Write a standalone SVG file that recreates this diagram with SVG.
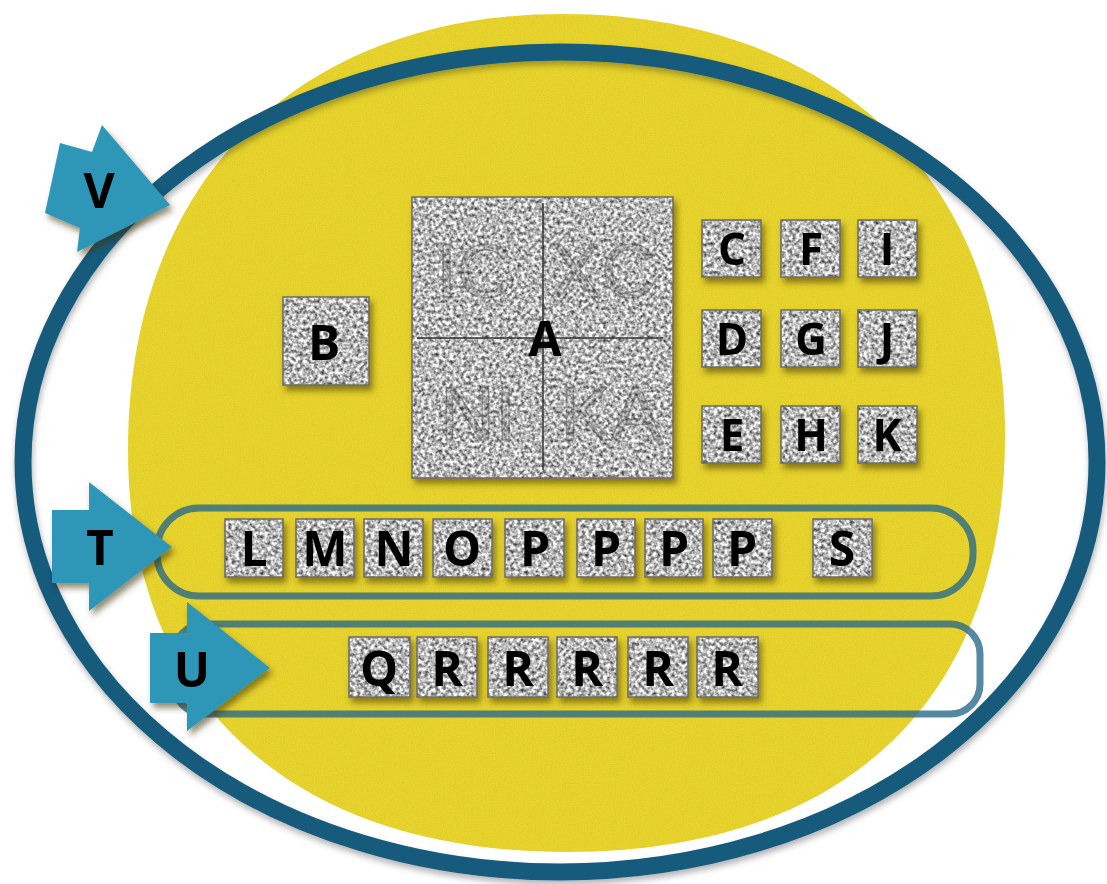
<svg xmlns="http://www.w3.org/2000/svg" width="1107" height="884" viewBox="0 0 1107 884">
<defs>
<filter id="tex" x="0%" y="0%" width="100%" height="100%" color-interpolation-filters="sRGB">
<feTurbulence type="fractalNoise" baseFrequency="0.28" numOctaves="2" seed="7" result="n"/>
<feColorMatrix in="n" type="matrix" values="1.4 0 0 0 0.02  1.4 0 0 0 0.02  1.4 0 0 0 0.02  0 0 0 0 1" result="g"/>
<feComposite in="g" in2="SourceAlpha" operator="in"/>
</filter>
<filter id="drop" x="-20%" y="-20%" width="150%" height="150%">
<feDropShadow dx="3" dy="5" stdDeviation="3" flood-color="#3a3000" flood-opacity="0.55"/>
</filter>
<filter id="ringsh" x="-5%" y="-5%" width="110%" height="112%">
<feDropShadow dx="1" dy="4" stdDeviation="3" flood-color="#000" flood-opacity="0.3"/>
</filter>
<filter id="grain" x="0%" y="0%" width="100%" height="100%" color-interpolation-filters="sRGB">
<feTurbulence type="fractalNoise" baseFrequency="0.9" numOctaves="1" seed="2" result="n"/>
<feColorMatrix in="n" type="matrix" values="0 0 0 0 0.7  0 0 0 0 0.62  0 0 0 0 0.05  0 0 0 0.35 -0.1" result="d"/>
<feComposite in="d" in2="SourceAlpha" operator="in" result="dd"/>
<feMerge><feMergeNode in="SourceGraphic"/><feMergeNode in="dd"/></feMerge>
</filter>
</defs>
<style>
.tile{fill:#aaa;}
.edge{fill:none;stroke:#6b6b6b;stroke-width:1.5;}
.lt{font-family:"Open Sans","Liberation Sans",sans-serif;font-weight:700;fill:#000;text-anchor:middle;}
.s44{font-size:44px;}
.s48{font-size:48px;}
.arrow{fill:#2e97b8;}
.cont{fill:none;stroke:#2a6a8a;stroke-opacity:0.8;stroke-width:7;}
.faint{font-family:"Liberation Sans",sans-serif;font-size:76px;fill:#444;fill-opacity:0.15;stroke:#333;stroke-opacity:0.35;stroke-width:1.5;text-anchor:middle;}
</style>
<rect width="1107" height="884" fill="#fff"/>

<g id="yellow-field">
<path d="M562,14 C825,14 1005,170 1005,435 C1005,705 840,852 567,852 C295,852 128,705 128,450 C128,175 305,14 562,14 Z" fill="#ead62f" filter="url(#grain)"/>
</g>

<g id="ring-V">
<ellipse cx="560" cy="462" rx="537" ry="410" fill="none" stroke="#165a7b" stroke-width="17" filter="url(#ringsh)"/>
</g>

<g id="container-T">
<rect x="157" y="508" width="816" height="88" rx="42" class="cont"/>
</g>
<g id="container-U">
<rect x="174" y="624" width="806" height="90" rx="30" class="cont"/>
</g>

<g id="node-A" filter="url(#drop)">
<rect x="412" y="197" width="261" height="281" class="tile" filter="url(#tex)"/>
<rect x="412" y="197" width="261" height="281" class="edge"/>
<text x="474" y="297" class="faint">IC</text>
<text x="603" y="297" class="faint">XC</text>
<text x="478" y="440" class="faint">NI</text>
<text x="611" y="440" class="faint">KA</text>
<line x1="543" y1="203" x2="543" y2="470" stroke="#333" stroke-width="1.5"/>
<line x1="417" y1="338" x2="663" y2="338" stroke="#333" stroke-width="1.5"/>
<text x="545" y="356" class="lt s48">A</text>
</g>

<g id="node-B" filter="url(#drop)">
<rect x="283" y="297" width="86" height="88" class="tile" filter="url(#tex)"/>
<rect x="283" y="297" width="86" height="88" class="edge"/>
<text x="324" y="360" class="lt s48">B</text>
</g>

<g id="node-C" filter="url(#drop)"><rect x="702" y="220" width="59" height="57" class="tile" filter="url(#tex)"/><rect x="702" y="220" width="59" height="57" class="edge"/><text x="732" y="265" class="lt s44">C</text></g>
<g id="node-F" filter="url(#drop)"><rect x="781" y="220" width="59" height="57" class="tile" filter="url(#tex)"/><rect x="781" y="220" width="59" height="57" class="edge"/><text x="811" y="265" class="lt s44">F</text></g>
<g id="node-I" filter="url(#drop)"><rect x="858" y="220" width="59" height="57" class="tile" filter="url(#tex)"/><rect x="858" y="220" width="59" height="57" class="edge"/><text x="887" y="265" class="lt s44">I</text></g>
<g id="node-D" filter="url(#drop)"><rect x="702" y="310" width="59" height="57" class="tile" filter="url(#tex)"/><rect x="702" y="310" width="59" height="57" class="edge"/><text x="732" y="355" class="lt s44">D</text></g>
<g id="node-G" filter="url(#drop)"><rect x="781" y="310" width="59" height="57" class="tile" filter="url(#tex)"/><rect x="781" y="310" width="59" height="57" class="edge"/><text x="811" y="355" class="lt s44">G</text></g>
<g id="node-J" filter="url(#drop)"><rect x="858" y="310" width="59" height="57" class="tile" filter="url(#tex)"/><rect x="858" y="310" width="59" height="57" class="edge"/><text x="887" y="355" class="lt s44">J</text></g>
<g id="node-E" filter="url(#drop)"><rect x="702" y="406" width="59" height="57" class="tile" filter="url(#tex)"/><rect x="702" y="406" width="59" height="57" class="edge"/><text x="732" y="451" class="lt s44">E</text></g>
<g id="node-H" filter="url(#drop)"><rect x="781" y="406" width="59" height="57" class="tile" filter="url(#tex)"/><rect x="781" y="406" width="59" height="57" class="edge"/><text x="811" y="451" class="lt s44">H</text></g>
<g id="node-K" filter="url(#drop)"><rect x="858" y="406" width="59" height="57" class="tile" filter="url(#tex)"/><rect x="858" y="406" width="59" height="57" class="edge"/><text x="887" y="451" class="lt s44">K</text></g>

<g id="node-L" filter="url(#drop)"><rect x="225" y="519" width="58" height="58" class="tile" filter="url(#tex)"/><rect x="225" y="519" width="58" height="58" class="edge"/><text x="254" y="566" class="lt s48">L</text></g>
<g id="node-M" filter="url(#drop)"><rect x="296" y="519" width="58" height="58" class="tile" filter="url(#tex)"/><rect x="296" y="519" width="58" height="58" class="edge"/><text x="325" y="566" class="lt s48">M</text></g>
<g id="node-N" filter="url(#drop)"><rect x="364" y="519" width="59" height="58" class="tile" filter="url(#tex)"/><rect x="364" y="519" width="59" height="58" class="edge"/><text x="394" y="566" class="lt s48">N</text></g>
<g id="node-O" filter="url(#drop)"><rect x="433" y="519" width="59" height="58" class="tile" filter="url(#tex)"/><rect x="433" y="519" width="59" height="58" class="edge"/><text x="462" y="566" class="lt s48">O</text></g>
<g id="node-P1" filter="url(#drop)"><rect x="505" y="519" width="59" height="58" class="tile" filter="url(#tex)"/><rect x="505" y="519" width="59" height="58" class="edge"/><text x="535" y="566" class="lt s48">P</text></g>
<g id="node-P2" filter="url(#drop)"><rect x="577" y="519" width="58" height="58" class="tile" filter="url(#tex)"/><rect x="577" y="519" width="58" height="58" class="edge"/><text x="606" y="566" class="lt s48">P</text></g>
<g id="node-P3" filter="url(#drop)"><rect x="645" y="519" width="58" height="58" class="tile" filter="url(#tex)"/><rect x="645" y="519" width="58" height="58" class="edge"/><text x="674" y="566" class="lt s48">P</text></g>
<g id="node-P4" filter="url(#drop)"><rect x="713" y="519" width="59" height="58" class="tile" filter="url(#tex)"/><rect x="713" y="519" width="59" height="58" class="edge"/><text x="742" y="566" class="lt s48">P</text></g>
<g id="node-S" filter="url(#drop)"><rect x="813" y="519" width="59" height="58" class="tile" filter="url(#tex)"/><rect x="813" y="519" width="59" height="58" class="edge"/><text x="842" y="566" class="lt s48">S</text></g>

<g id="node-Q" filter="url(#drop)"><rect x="349" y="637" width="61" height="60" class="tile" filter="url(#tex)"/><rect x="349" y="637" width="61" height="60" class="edge"/><text x="379" y="686" class="lt s48">Q</text></g>
<g id="node-R1" filter="url(#drop)"><rect x="417" y="637" width="60" height="60" class="tile" filter="url(#tex)"/><rect x="417" y="637" width="60" height="60" class="edge"/><text x="447" y="686" class="lt s48">R</text></g>
<g id="node-R2" filter="url(#drop)"><rect x="488" y="637" width="60" height="60" class="tile" filter="url(#tex)"/><rect x="488" y="637" width="60" height="60" class="edge"/><text x="518" y="686" class="lt s48">R</text></g>
<g id="node-R3" filter="url(#drop)"><rect x="557" y="637" width="60" height="60" class="tile" filter="url(#tex)"/><rect x="557" y="637" width="60" height="60" class="edge"/><text x="587" y="686" class="lt s48">R</text></g>
<g id="node-R4" filter="url(#drop)"><rect x="628" y="637" width="60" height="60" class="tile" filter="url(#tex)"/><rect x="628" y="637" width="60" height="60" class="edge"/><text x="658" y="686" class="lt s48">R</text></g>
<g id="node-R5" filter="url(#drop)"><rect x="697" y="637" width="61" height="60" class="tile" filter="url(#tex)"/><rect x="697" y="637" width="61" height="60" class="edge"/><text x="727" y="686" class="lt s48">R</text></g>

<g id="connectors">
<g id="pointer-V" filter="url(#drop)">
<polygon points="60,143 92,152 102,125 170,205 77,252 80,228 45,213" class="arrow"/>
<text x="99" y="208" class="lt s48">V</text>
</g>
<g id="pointer-T" filter="url(#drop)">
<polygon points="52,510 89,510 89,482 172,547 89,611 89,583 52,583" class="arrow"/>
<text x="100" y="565" class="lt s48">T</text>
</g>
<g id="pointer-U" filter="url(#drop)">
<polygon points="150,633 187,633 187,602 270,668 187,731 187,703 150,703" class="arrow"/>
<text x="192" y="687" class="lt s48">U</text>
</g>
</g>
</svg>
